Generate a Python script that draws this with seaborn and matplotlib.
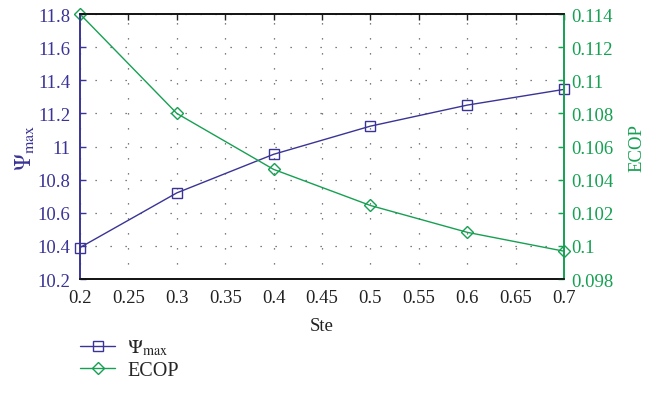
import matplotlib
matplotlib.use("Agg")
import matplotlib.pyplot as plt
import seaborn as sns
import pandas as pd
import numpy as np

ste = [0.2, 0.3, 0.4, 0.5, 0.6, 0.7]
psi_max = [10.39, 10.72, 10.953, 11.123, 11.25, 11.345]
ecop = [0.1140, 0.1080, 0.10462, 0.10244, 0.10082, 0.09968]

xticks = [0.2, 0.25, 0.3, 0.35, 0.4, 0.45, 0.5, 0.55, 0.6, 0.65, 0.7]
xticklabels = ["0.2", "0.25", "0.3", "0.35", "0.4", "0.45", "0.5", "0.55", "0.6", "0.65", "0.7"]
yticks_left = [10.2, 10.4, 10.6, 10.8, 11.0, 11.2, 11.4, 11.6, 11.8]
yticklabels_left = ["10.2", "10.4", "10.6", "10.8", "11", "11.2", "11.4", "11.6", "11.8"]
yticks_right = [0.098, 0.100, 0.102, 0.104, 0.106, 0.108, 0.110, 0.112, 0.114]
yticklabels_right = ["0.098", "0.1", "0.102", "0.104", "0.106", "0.108", "0.11", "0.112", "0.114"]

sns.set_style("white")
plt.rcParams['font.family'] = ['Liberation Serif', 'DejaVu Serif']
plt.rcParams['mathtext.fontset'] = 'stix'

BLUE = "#3a3496"
GREEN = "#16a052"
FS = 13.5

df = pd.DataFrame({"Ste": ste, "psi": psi_max, "ecop": ecop})

fig = plt.figure(figsize=(6.53, 4.06), dpi=100)
ax = fig.add_axes([0.1225, 0.3103, 0.7412, 0.6527])
ax2 = ax.twinx()

psi_label = r'$\Psi_{\mathrm{max}}$'
sns.lineplot(data=df, x="Ste", y="psi", ax=ax, color=BLUE, marker="s", markersize=7,
             markerfacecolor="none", markeredgecolor=BLUE, markeredgewidth=1.0,
             linewidth=1.0, label=psi_label, legend=False)
sns.lineplot(data=df, x="Ste", y="ecop", ax=ax2, color=GREEN, marker="D", markersize=6,
             markerfacecolor="none", markeredgecolor=GREEN, markeredgewidth=1.0,
             linewidth=1.0, label="ECOP", legend=False)
for l in ax2.lines:
    l.set_clip_on(False)
for l in ax.lines:
    l.set_clip_on(False)

ax.set_xlim(0.2, 0.7)
ax.set_ylim(10.2, 11.8)
ax2.set_ylim(0.098, 0.114)
ax.set_xticks(xticks)
ax.set_xticklabels(xticklabels, fontsize=FS)
ax.set_yticks(yticks_left)
ax.set_yticklabels(yticklabels_left, fontsize=FS, color=BLUE)
ax2.set_yticks(yticks_right)
ax2.set_yticklabels(yticklabels_right, fontsize=FS, color=GREEN)

ax.grid(True, linestyle=(0, (1, 11)), color="#555555", linewidth=0.9)
ax2.grid(False)

ax.tick_params(axis='x', direction='in', length=4, width=1, top=True, colors='#222222', pad=7)
ax.tick_params(axis='y', direction='in', length=4, width=1, colors=BLUE, pad=7)
ax2.tick_params(axis='y', direction='in', length=4, width=1, colors=GREEN, pad=5)
for lbl in ax.get_xticklabels():
    lbl.set_color('#222222')

for a in (ax, ax2):
    for s in a.spines.values():
        s.set_linewidth(1.2)
        s.set_visible(True)
for a in (ax, ax2):
    a.spines['top'].set_color('#111111')
    a.spines['bottom'].set_color('#111111')
    a.spines['left'].set_color(BLUE)
    a.spines['right'].set_color(GREEN)

ax.set_xlabel("Ste", fontsize=FS, color='#222222', labelpad=8)
ax.set_ylabel(psi_label, fontsize=FS + 3, color=BLUE, labelpad=1)
ax2.set_ylabel("ECOP", fontsize=FS, color=GREEN, labelpad=11)

h1, l1 = ax.get_legend_handles_labels()
h2, l2 = ax2.get_legend_handles_labels()
fig.legend(h1 + h2, l1 + l2, loc="upper left", bbox_to_anchor=(0.095, 0.21), frameon=False,
           fontsize=FS + 1, handlelength=1.75, labelspacing=0.15, handletextpad=0.6)

fig.savefig("out.png", dpi=100)
